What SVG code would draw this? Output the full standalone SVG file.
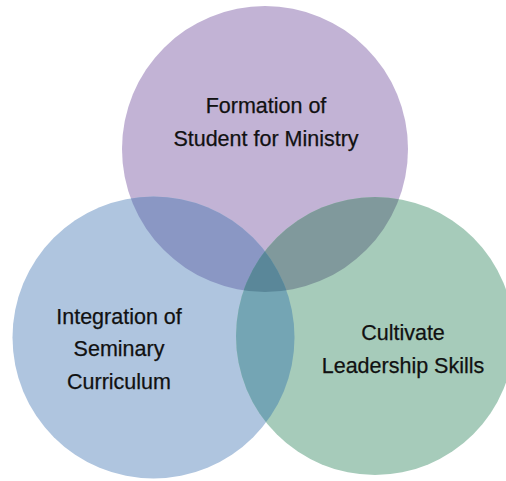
<svg xmlns="http://www.w3.org/2000/svg" width="506" height="481" viewBox="0 0 506 481">
  <defs>
    <style>
      .label { font-family: "Liberation Sans", Arial, sans-serif; font-size: 21.5px; fill: #111111; stroke: #111111; stroke-width: 0.25; text-anchor: middle; }
    </style>
    <circle id="shape-top" cx="265" cy="149" r="143"/>
    <circle id="shape-left" cx="153.5" cy="337.5" r="141"/>
    <circle id="shape-right" cx="375" cy="336" r="139"/>
    <clipPath id="clip-top"><use href="#shape-top"/></clipPath>
    <clipPath id="clip-left"><use href="#shape-left"/></clipPath>
    <clipPath id="clip-right"><use href="#shape-right"/></clipPath>
  </defs>

  <rect width="506" height="481" fill="#ffffff"/>

  <!-- base circles -->
  <g id="formation">
    <use href="#shape-top" fill="#C2B3D5"/>
  </g>
  <g id="integration">
    <use href="#shape-left" fill="#AFC5DF"/>
  </g>
  <g id="cultivate">
    <use href="#shape-right" fill="#A6CBBA"/>
  </g>

  <!-- overlap regions -->
  <g id="overlaps">
    <g clip-path="url(#clip-top)"><use href="#shape-left" fill="#8A97C4"/></g>
    <g clip-path="url(#clip-top)"><use href="#shape-right" fill="#80999C"/></g>
    <g clip-path="url(#clip-left)"><use href="#shape-right" fill="#74A5B4"/></g>
    <g clip-path="url(#clip-top)"><g clip-path="url(#clip-left)"><use href="#shape-right" fill="#5A8799"/></g></g>
  </g>

  <!-- labels -->
  <g id="labels">
    <text class="label" x="266" y="113">Formation of</text>
    <text class="label" x="266" y="146">Student for Ministry</text>
    <text class="label" x="119" y="324">Integration of</text>
    <text class="label" x="119" y="356">Seminary</text>
    <text class="label" x="119" y="389">Curriculum</text>
    <text class="label" x="403" y="340">Cultivate</text>
    <text class="label" x="403" y="373">Leadership Skills</text>
  </g>
</svg>
